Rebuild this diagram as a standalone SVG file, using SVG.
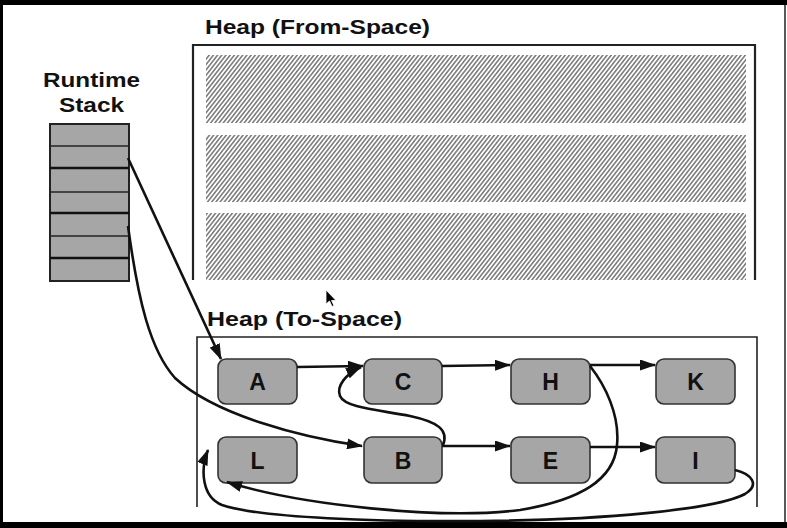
<svg xmlns="http://www.w3.org/2000/svg" width="787" height="528" viewBox="0 0 787 528">
<style>
.t{font-family:"Liberation Sans",Arial,sans-serif;font-weight:bold;fill:#111;}
.lbl{font-size:21px;}
.nd{fill:#a6a6a6;stroke:#333;stroke-width:1.6;}
.nt{font-size:23px;text-anchor:middle;}
.cn{fill:none;stroke:#111;stroke-width:2.6;}
.box{fill:none;stroke:#222;}
</style>
<defs>
<pattern id="hatch" patternUnits="userSpaceOnUse" width="3.3" height="10" patternTransform="rotate(38)">
<line x1="0.8" y1="0" x2="0.8" y2="10" stroke="#4a4a4a" stroke-width="1.15"/>
</pattern>
<marker id="ah" markerUnits="userSpaceOnUse" markerWidth="16" markerHeight="11" refX="15" refY="5.5" orient="auto">
<path d="M0,0 L16,5.5 L0,11 z" fill="#111"/>
</marker>
</defs>
<rect width="787" height="528" fill="#fff"/>
<!-- outer frame -->
<rect x="0" y="0" width="787" height="5" fill="#000"/>
<rect x="0" y="0" width="3" height="528" fill="#000"/>
<rect x="0" y="522" width="787" height="6" fill="#000"/>
<line x1="785" y1="5" x2="785" y2="522" stroke="#222" stroke-width="1.5"/>

<!-- titles -->
<text class="t lbl" x="205" y="34" textLength="225" lengthAdjust="spacingAndGlyphs">Heap (From-Space)</text>
<text class="t lbl" x="43" y="87" textLength="97" lengthAdjust="spacingAndGlyphs">Runtime</text>
<text class="t lbl" x="59" y="112" textLength="65" lengthAdjust="spacingAndGlyphs">Stack</text>
<text class="t lbl" x="207" y="326" textLength="195" lengthAdjust="spacingAndGlyphs">Heap (To-Space)</text>

<!-- from-space -->
<g id="from-space">
<path class="box" d="M193,280 V45 H755 V280" stroke-width="2.2"/>
<rect x="206" y="55" width="540" height="68" fill="url(#hatch)"/>
<rect x="206" y="135" width="540" height="67" fill="url(#hatch)"/>
<rect x="206" y="213" width="540" height="67" fill="url(#hatch)"/>
</g>

<!-- to-space -->
<g id="to-space">
<path class="box" d="M197,507 V337 H757 V507" stroke-width="1.6"/>
</g>

<!-- runtime stack -->
<g id="stack">
<rect x="50" y="124" width="79" height="157" fill="#a6a6a6" stroke="#222" stroke-width="2"/>
<line x1="50" y1="146" x2="129" y2="146" stroke="#222" stroke-width="1.5"/>
<line x1="50" y1="168" x2="129" y2="168" stroke="#111" stroke-width="2.5"/>
<line x1="50" y1="192" x2="129" y2="192" stroke="#222" stroke-width="1.5"/>
<line x1="50" y1="213" x2="129" y2="213" stroke="#111" stroke-width="2.5"/>
<line x1="50" y1="236" x2="129" y2="236" stroke="#222" stroke-width="1.5"/>
<line x1="50" y1="258" x2="129" y2="258" stroke="#111" stroke-width="2.5"/>
</g>

<!-- nodes -->
<g id="node-A"><rect class="nd" x="218" y="359" width="79" height="45" rx="8"/><text class="t nt" x="257.5" y="390">A</text></g>
<g id="node-C"><rect class="nd" x="364" y="359" width="78" height="45" rx="8"/><text class="t nt" x="403" y="390">C</text></g>
<g id="node-H"><rect class="nd" x="511" y="359" width="79" height="45" rx="8"/><text class="t nt" x="550.5" y="390">H</text></g>
<g id="node-K"><rect class="nd" x="656" y="359" width="79" height="45" rx="8"/><text class="t nt" x="695.5" y="390">K</text></g>
<g id="node-L"><rect class="nd" x="218" y="437" width="79" height="46" rx="8"/><text class="t nt" x="257.5" y="469">L</text></g>
<g id="node-B"><rect class="nd" x="364" y="437" width="78" height="46" rx="8"/><text class="t nt" x="403" y="469">B</text></g>
<g id="node-E"><rect class="nd" x="511" y="437" width="79" height="46" rx="8"/><text class="t nt" x="550.5" y="469">E</text></g>
<g id="node-I"><rect class="nd" x="656" y="437" width="79" height="46" rx="8"/><text class="t nt" x="695.5" y="469">I</text></g>

<!-- connectors -->
<g id="connectors">
<path class="cn" marker-end="url(#ah)" d="M128,158 L221,359"/>
<path class="cn" marker-end="url(#ah)" d="M128,226 C138,300 150,350 175,378 C215,415 300,437 362,446"/>
<path class="cn" marker-end="url(#ah)" d="M297,367 L363,366"/>
<path class="cn" marker-end="url(#ah)" d="M442,366 L510,365"/>
<path class="cn" marker-end="url(#ah)" d="M590,365 L655,365"/>
<path class="cn" marker-end="url(#ah)" d="M442,446 L510,446"/>
<path class="cn" marker-end="url(#ah)" d="M590,447 L655,447"/>
<path class="cn" marker-end="url(#ah)" d="M443,445 C449,430 438,422 410,416 C380,410 345,408 340,396 C336,386 346,374 361,367"/>
<path class="cn" marker-end="url(#ah)" d="M590,366 C605,385 620,415 617,445 C614,480 580,500 520,510 C440,520 300,505 227,482"/>
<path class="cn" marker-end="url(#ah)" d="M735,470 C752,474 760,485 745,494 C715,510 600,520 480,521 C380,522 260,518 222,505 C202,497 200,470 208,450"/>
</g>

<!-- mouse cursor -->
<polygon points="326,290 326,304 329.5,301 332,306.5 334,305.5 331.5,300.5 336,300.5" fill="#000" stroke="#fff" stroke-width="0.8"/>
</svg>
